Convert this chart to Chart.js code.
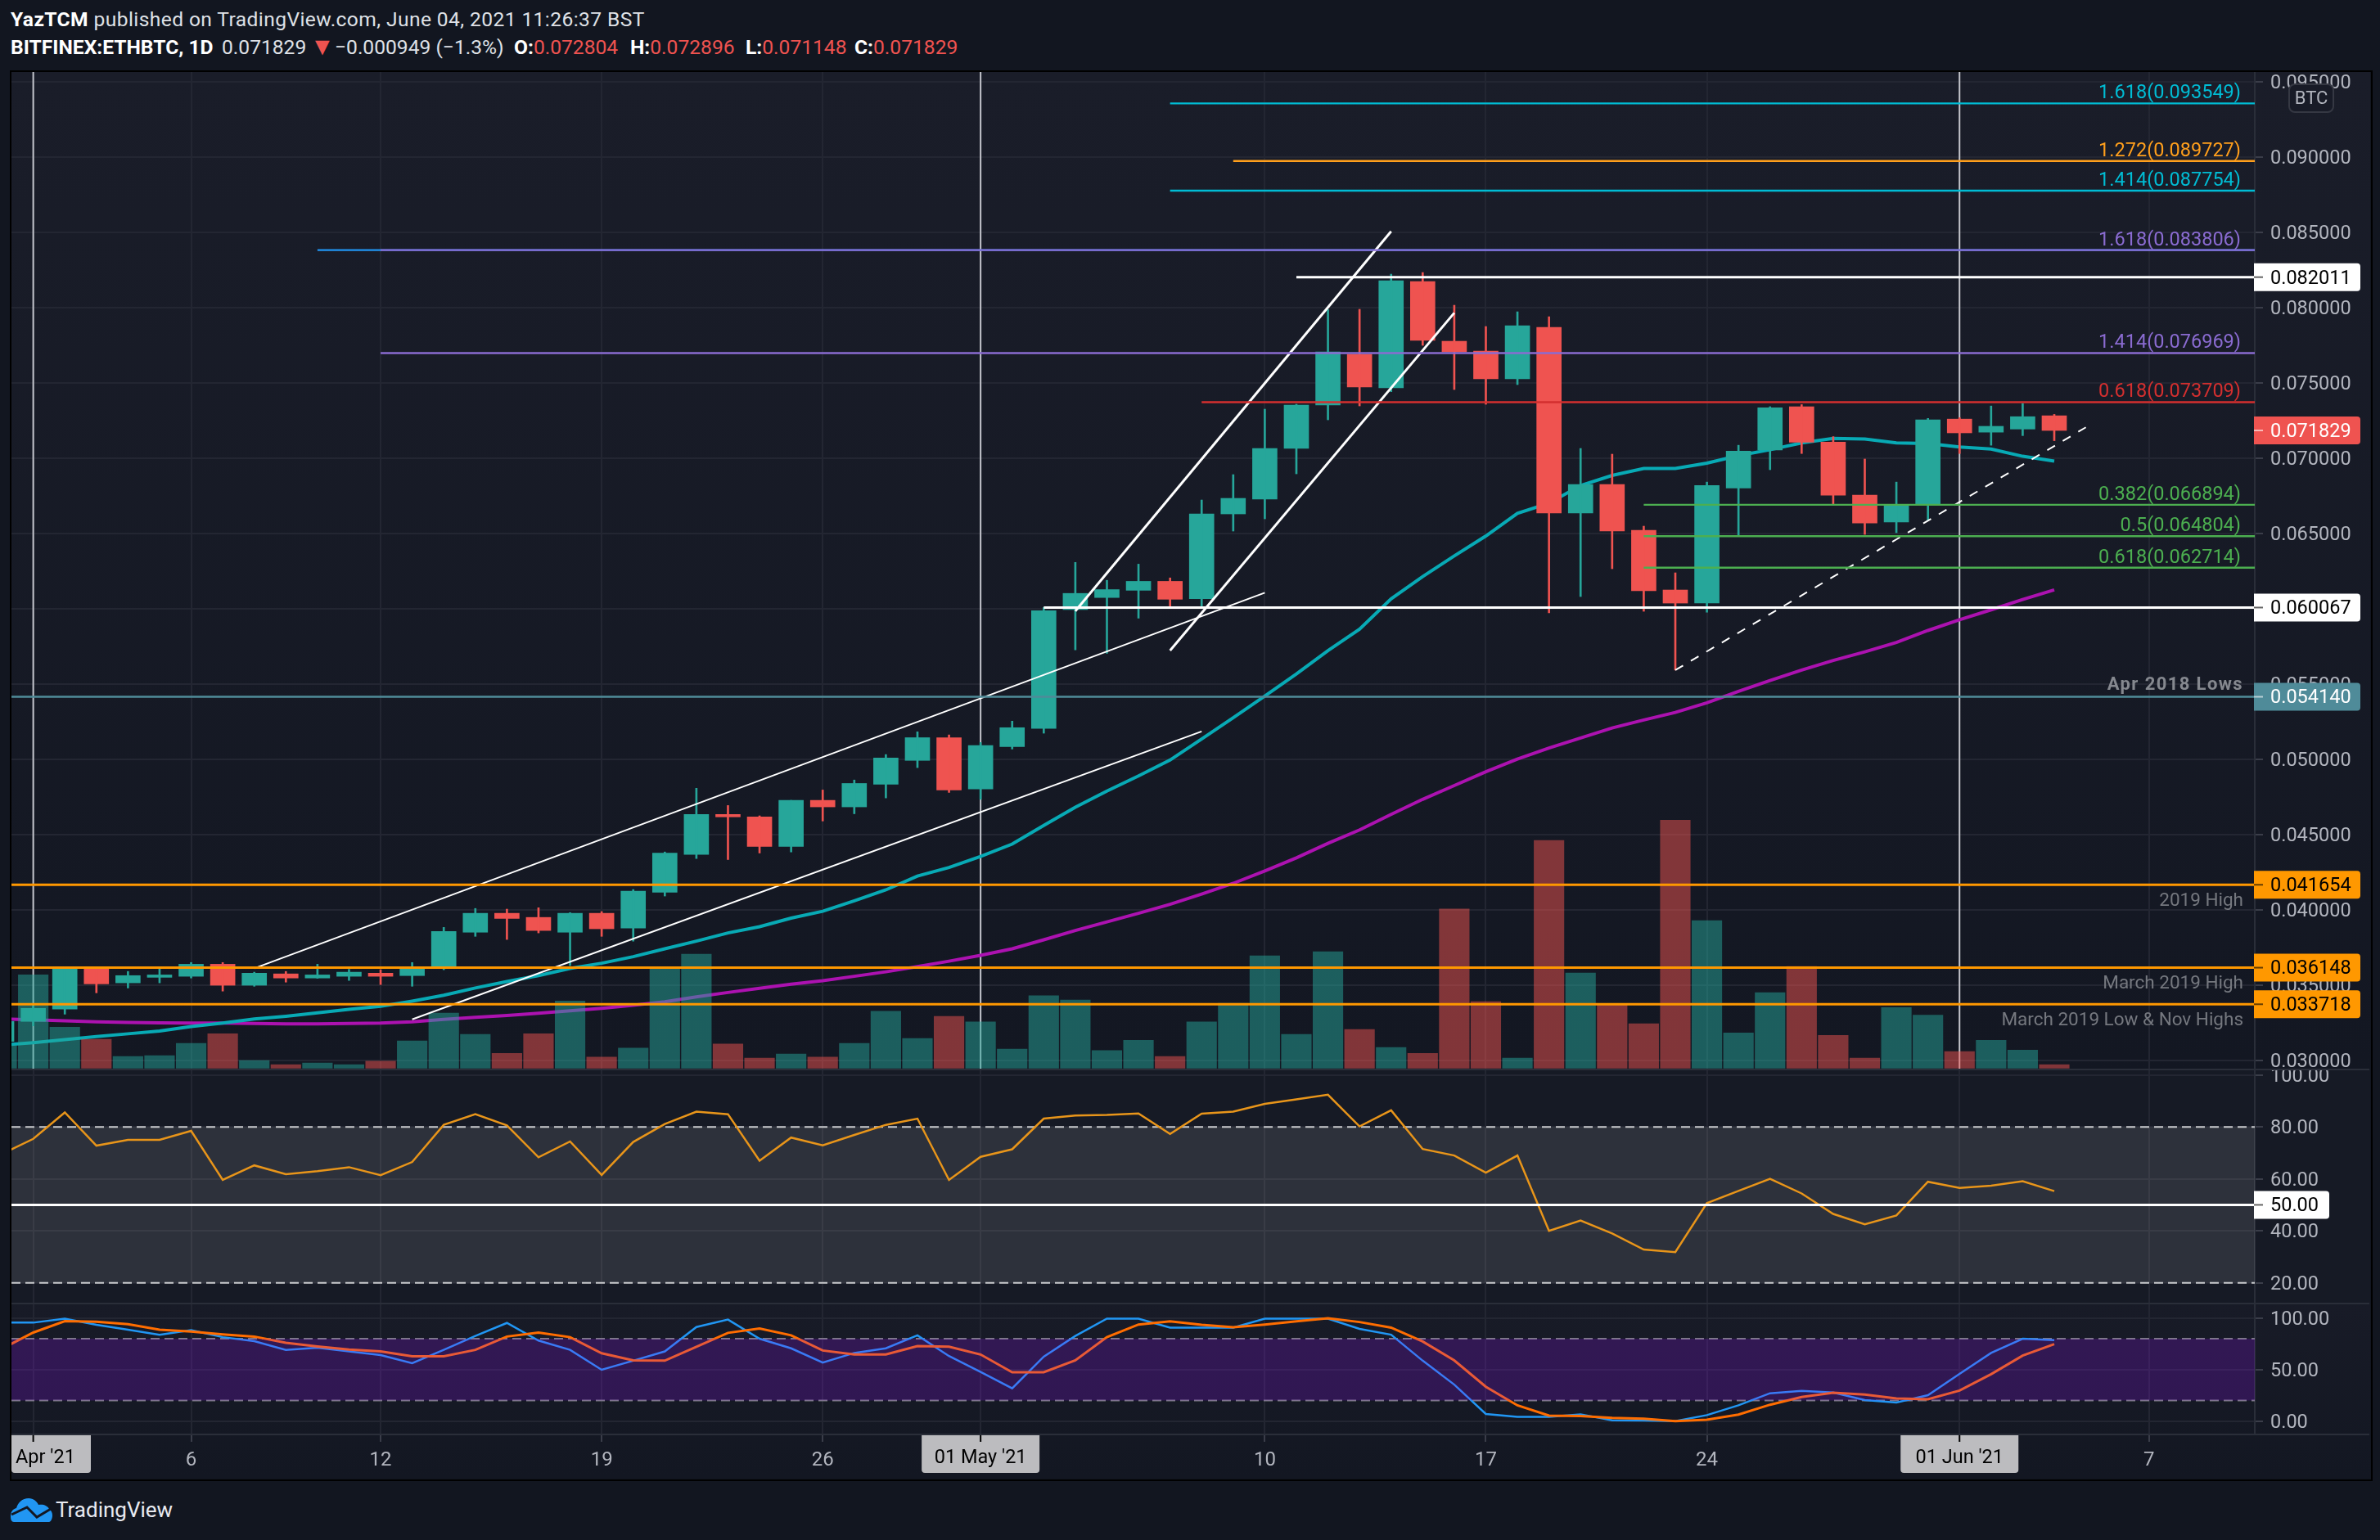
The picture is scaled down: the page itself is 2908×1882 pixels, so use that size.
<!DOCTYPE html>
<html>
<head>
<meta charset="utf-8">
<title>BITFINEX:ETHBTC, 1D</title>
<script src="https://cdn.jsdelivr.net/npm/chart.js@4/dist/chart.umd.js"></script>
<style>
  html, body { margin: 0; padding: 0; background: #121620; }
  body { position: relative; width: 2908px; height: 1882px; overflow: hidden; font-family: Roboto, sans-serif; }
  .hd { position: absolute; font-size: 24.6px; line-height: 30px; white-space: pre; color: #dfe1e6; }
  .hd b { color: #fff; font-weight: 700; }
  .red { color: #ef5350; }
  #frame { position: absolute; left: 12px; top: 86px; width: 2883px; height: 1720px; border: 2px solid #000; }
  .pane { position: absolute; left: 14px; width: 2882px; }
  .pane canvas { display: block; }
  #mainPane { top: 88px; height: 1219px; background: linear-gradient(#1a1d29, #131722); }
  #rsiPane { top: 1307px; height: 286px; background: linear-gradient(#161a25, #161a25); }
  #stochPane { top: 1593px; height: 213px; background: linear-gradient(#181b27, #131722); }
  .sep { position: absolute; left: 14px; width: 2881px; height: 2px; background: #2a2e39; }
  #logo { position: absolute; left: 13px; top: 1831px; }
  #logoText { position: absolute; left: 68px; top: 1830px; font-size: 26px; line-height: 30px; color: #e8eaf0; }
</style>
</head>
<body>
<div class="hd" style="left:13px;top:9px;letter-spacing:0.4px"><b>YazTCM</b> published on TradingView.com, June 04, 2021 11:26:37 BST</div>
<div class="hd" style="left:13px;top:43px"><b>BITFINEX:ETHBTC, 1D</b></div>
<div class="hd" style="left:271px;top:43px">0.071829</div>
<div class="hd red" style="left:379px;top:42px;font-size:30px">▼</div>
<div class="hd" style="left:409px;top:43px">−0.000949 (−1.3%)</div>
<div class="hd" style="left:628px;top:43px"><b>O:</b><span class="red">0.072804</span></div>
<div class="hd" style="left:770px;top:43px"><b>H:</b><span class="red">0.072896</span></div>
<div class="hd" style="left:911px;top:43px"><b>L:</b><span class="red">0.071148</span></div>
<div class="hd" style="left:1044px;top:43px"><b>C:</b><span class="red">0.071829</span></div>

<div id="frame"></div>
<div class="pane" id="mainPane"><canvas id="mainChart" width="2882" height="1219"></canvas></div>
<div class="pane" id="rsiPane"><canvas id="rsiChart" width="2882" height="286"></canvas></div>
<div class="pane" id="stochPane"><canvas id="stochChart" width="2882" height="213"></canvas></div>
<div class="sep" style="top:1306px"></div>
<div class="sep" style="top:1592px"></div>
<div class="sep" style="top:1752px"></div>

<svg id="logo" width="51" height="29" viewBox="0 0 51 29">
  <path d="M0 22C0 16 3 13 7 12C9 5 14 0 22 0C28 0 32 4 34 8C40 7 45 9 47 13C50 15 51 18 51 21C51 25 49 29 47 29L4 29C1 29 0 26 0 22Z" fill="#2196f3"/>
  <path d="M1 20L20 11L32 23L49 13" fill="none" stroke="#131722" stroke-width="3"/>
</svg>
<div id="logoText">TradingView</div>

<script>
'use strict';

// daily candles, first entry is 31 Mar '21
const opens = [0.031252,0.032579,0.033402,0.036101,0.03514,0.035506,0.035575,0.036375,0.03498,0.035735,0.03546,0.035575,0.035781,0.035621,0.036101,0.038502,0.03976,0.039486,0.038502,0.03976,0.038777,0.041155,0.043671,0.046324,0.046164,0.044197,0.047261,0.046827,0.048336,0.049914,0.051424,0.048016,0.050829,0.052041,0.059931,0.060732,0.061212,0.061807,0.060652,0.066286,0.067264,0.070634,0.073514,0.076884,0.074656,0.081721,0.077754,0.0771,0.075254,0.078678,0.06634,0.068243,0.065199,0.061232,0.060373,0.06801,0.070526,0.073407,0.071052,0.06753,0.065747,0.066913,0.072584,0.071715,0.071921,0.072804];
const highs = [0.03275,0.0336,0.036215,0.036101,0.035895,0.036055,0.03649,0.03649,0.035849,0.035895,0.036375,0.036032,0.03601,0.03649,0.038822,0.04008,0.040035,0.040126,0.039806,0.039874,0.041338,0.043831,0.048062,0.046918,0.046232,0.047261,0.047948,0.048611,0.050303,0.051813,0.051607,0.051104,0.052522,0.060069,0.063065,0.061875,0.06295,0.062035,0.06721,0.068895,0.073243,0.07357,0.079855,0.079875,0.08221,0.082319,0.080145,0.078732,0.07971,0.079384,0.070634,0.070254,0.065471,0.062373,0.0684,0.070846,0.073407,0.073545,0.071418,0.069931,0.0684,0.07263,0.072676,0.073453,0.073613,0.072896];
const lows = [0.0310,0.032282,0.033059,0.034477,0.034797,0.03514,0.03546,0.034591,0.034912,0.035186,0.03544,0.0353,0.035026,0.034912,0.03601,0.038228,0.038022,0.038456,0.036284,0.038228,0.037908,0.040904,0.043396,0.043328,0.043762,0.043831,0.045889,0.04637,0.047421,0.049434,0.047787,0.04733,0.050669,0.051721,0.057256,0.057027,0.05936,0.060069,0.06005,0.065145,0.06596,0.068949,0.072536,0.07346,0.074402,0.077482,0.074547,0.073569,0.074873,0.05971,0.060797,0.062645,0.059819,0.055913,0.059755,0.064878,0.069222,0.070297,0.066936,0.064923,0.065038,0.065861,0.070297,0.070846,0.071486,0.071148];
const closes = [0.032579,0.033448,0.036101,0.035072,0.035621,0.035666,0.036375,0.03498,0.035781,0.03546,0.035666,0.035849,0.035575,0.036055,0.038548,0.03976,0.039417,0.038617,0.03976,0.038731,0.041224,0.043762,0.046324,0.046164,0.044197,0.047261,0.046827,0.048382,0.050074,0.051424,0.047948,0.050898,0.052087,0.059863,0.061006,0.061258,0.061807,0.060617,0.066286,0.067319,0.070634,0.073514,0.077047,0.07471,0.081775,0.077808,0.077047,0.075254,0.078786,0.06634,0.068243,0.065145,0.061177,0.060362,0.06817,0.070457,0.073339,0.071052,0.06753,0.065678,0.066867,0.072538,0.071669,0.072104,0.072744,0.071829];
const volumes = [66,271,119,84,34,36,72,100,22,10,15,10,20,79,160,98,43,100,195,32,58,290,331,70,29,41,32,72,165,86,150,134,55,210,198,51,81,34,134,188,326,98,338,112,60,43,462,193,29,661,276,184,129,720,428,102,219,295,95,29,176,154,48,81,52,10];
const ema20 = [0.031001,0.031161,0.031367,0.031573,0.031756,0.031939,0.032236,0.032465,0.032739,0.032922,0.033151,0.033379,0.033585,0.033928,0.034317,0.034797,0.035232,0.035621,0.036101,0.036444,0.036878,0.037404,0.037908,0.038456,0.038868,0.03944,0.039897,0.040583,0.041315,0.04223,0.042802,0.043534,0.044357,0.045592,0.046804,0.047879,0.048885,0.049937,0.051332,0.05275,0.054191,0.055655,0.05721,0.058628,0.06064,0.062127,0.063499,0.064819,0.066322,0.066993,0.06817,0.06884,0.0693,0.0693,0.069656,0.07016,0.070549,0.071006,0.071303,0.071258,0.071006,0.07096,0.070732,0.070595,0.070114,0.069794];
const ema50 = [0.032739,0.032693,0.032625,0.032556,0.03251,0.032487,0.032464,0.032464,0.032441,0.032418,0.032418,0.032441,0.032464,0.032556,0.032716,0.032853,0.032967,0.033127,0.033287,0.033448,0.033654,0.033883,0.034203,0.0345,0.034775,0.035049,0.035277,0.035575,0.035872,0.036215,0.036581,0.03697,0.037404,0.038,0.038617,0.039189,0.03976,0.040355,0.041041,0.04175,0.042573,0.043442,0.044403,0.045295,0.046324,0.04733,0.048245,0.04916,0.050006,0.050738,0.051408,0.052071,0.052597,0.053101,0.053741,0.054495,0.055227,0.055913,0.056554,0.057125,0.057743,0.058543,0.059252,0.059915,0.060601,0.061242];
const rsi = [69.5,75.4,85.6,72.8,75.0,75.0,78.5,59.6,65.2,61.8,63.0,64.5,61.4,66.5,80.8,84.9,80.6,68.3,74.4,61.5,74.2,81.1,85.9,84.9,67.0,75.9,72.9,76.9,80.8,83.2,59.6,68.5,71.4,83.2,84.4,84.6,85.2,77.3,85.1,85.9,88.9,90.6,92.4,80.2,86.4,71.5,69.0,62.4,69.0,40.0,44.0,39.0,32.8,31.8,50.7,55.4,60.0,54.4,46.5,42.5,45.9,58.9,56.5,57.4,59.1,55.3];
const stochK = [95.5,95.5,99.4,93.4,88.6,83.8,88.3,81.4,77.5,69.1,71.2,67.6,64.0,56.2,69.1,82.6,95.2,78.1,69.1,49.8,58.6,67.6,91.3,98.5,79.9,70.6,56.8,66.1,70.6,83.2,63.1,47.7,31.8,62.5,82.6,99.4,99.4,90.7,90.7,90.7,99.4,99.4,99.4,89.5,83.8,58.6,35.4,6.9,4.2,4.2,6.6,0.8,0.5,0,5.8,15.3,27.0,29.4,27.8,20.4,18.0,25.1,45.8,66.1,79.9,78.6];
const stochD = [70.0,85.9,97.0,96.4,94.0,88.6,86.8,84.1,82.0,76.0,72.4,69.4,67.6,62.8,62.8,69.1,82.0,85.9,81.4,65.8,58.9,58.6,72.1,85.6,89.8,83.2,68.5,64.6,64.6,72.7,72.1,64.6,47.4,47.4,58.9,81.4,93.7,96.7,93.4,91.0,93.7,96.7,99.7,96.1,90.7,77.2,58.9,33.3,15.3,5.4,5.0,3.2,2.4,0,1.3,6.3,15.9,23.3,27.5,25.7,22.0,21.2,29.6,45.5,63.5,74.6];

// axis ticks, days counted from 1 Apr '21
const timeTicks = [0,5,11,18,25,30,39,46,53,61,67];
const timeLabels = ["Apr '21",'6','12','19','26',"01 May '21",'10','17','24',"01 Jun '21",'7'];
const monthTicks = [0,30,61];
const priceTicks = [0.03,0.035,0.04,0.045,0.05,0.055,0.06,0.065,0.07,0.075,0.08,0.085,0.09,0.095];
const rsiTicks = [20,40,60,80,100];
const stochTicks = [0,50,100];

// fib levels drawn on the price pane
const fibRatios = ['1.618','1.272','1.414','1.618','1.414','0.618','0.382','0.5','0.618'];
const fibValues = [0.093549,0.089727,0.087754,0.083806,0.076969,0.073709,0.066894,0.064804,0.062714];
const fibStarts = [36,38,36,11,11,37,51,51,51];

// support and resistance with a price tag on the axis
const tagValues = [0.082011,0.060067,0.054140,0.041654,0.036148,0.033718];
const tagStarts = [40,32,-1,-1,-1,-1];
const tagNotes = ['','','Apr 2018 Lows','2019 High','March 2019 High','March 2019 Low & Nov Highs'];

// trend lines as [day, price, day, price]
const channelLines = [
  [7,0.036101,39,0.061052],
  [12,0.032716,37,0.051835],
  [33,0.059837,43,0.085056],
  [36,0.05721,45,0.079638]
];
const dashedTrend = [52,0.055913,65,0.072035];
const lastClose = 0.071829;
const rsiMid = 50;

const fibColors = ['#00bcd4','#ff9f1c','#00bcd4','#8a6bd1','#8a6bd1','#d32f2f','#4caf50','#4caf50','#4caf50'];
const tagFills = ['#ffffff','#ffffff','#4f8b99','#ff9800','#ff9800','#ff9800'];
const tagInks = ['#000000','#000000','#ffffff','#000000','#000000','#000000'];
const tagWidths = [3,3,2.4,3,3,3];
const UP = '#26a69a', DOWN = '#ef5350';
const GRID = '#232632', AXIS_TEXT = '#b2b5be', FONT = 'Roboto, sans-serif';

const X_MIN = -0.69, X_MAX = 70.35;
const days = opens.map((_, i) => i - 1);
const pts = arr => arr.map((v, i) => ({ x: days[i], y: v }));

function segment(points, color, width, order, dash) {
  return { type: 'line', data: points, borderColor: color, borderWidth: width, pointRadius: 0,
           tension: 0, fill: false, order: order, borderDash: dash || [], borderCapStyle: 'butt' };
}
function level(start, value, color, width, order, dash) {
  return segment([{ x: start, y: value }, { x: X_MAX, y: value }], color, width, order, dash);
}
function vertical(day, lo, hi) {
  return segment([{ x: day, y: lo }, { x: day, y: hi }], 'rgba(225,226,232,0.85)', 2, 6);
}
// tick labels must not push the plot area in from the canvas edges
function noPadding(s) {
  s.paddingLeft = s.paddingRight = s.paddingTop = s.paddingBottom = 0;
}
function xAxis(showLabels) {
  return {
    type: 'linear', min: X_MIN, max: X_MAX, offset: false,
    afterBuildTicks: s => { s.ticks = timeTicks.map(v => ({ value: v })); },
    afterFit: s => { s.height = showLabels ? 54 : 0; noPadding(s); },
    grid: { color: GRID, lineWidth: 2, offset: false, drawTicks: showLabels, tickLength: 10, tickColor: '#3a3d49' },
    border: { display: false },
    ticks: {
      display: showLabels, autoSkip: false, maxRotation: 0, padding: 9, color: AXIS_TEXT,
      font: { family: FONT, size: 24 },
      callback: v => monthTicks.includes(v) ? '' : timeLabels[timeTicks.indexOf(v)]
    }
  };
}
function yAxis(min, max, ticks, digits) {
  return {
    type: 'linear', position: 'right', min: min, max: max,
    afterBuildTicks: s => { s.ticks = ticks.map(v => ({ value: v })); },
    afterFit: s => { s.width = 141; noPadding(s); },
    grid: { color: GRID, lineWidth: 2, tickLength: 10, tickColor: '#3a3d49' },
    border: { color: '#2a2e39', width: 2 },
    ticks: { autoSkip: false, padding: 9, labelOffset: 2, color: AXIS_TEXT, font: { family: FONT, size: 23.5 },
             callback: v => v.toFixed(digits) }
  };
}
function axisTag(ctx, area, y, text, fill, ink, width) {
  const x = area.right - 1;
  ctx.save();
  ctx.fillStyle = fill;
  ctx.beginPath();
  ctx.roundRect(x, y - 17, width, 34, [0, 4, 4, 0]);
  ctx.fill();
  ctx.globalAlpha = 0.6;
  ctx.fillStyle = ink;
  ctx.fillRect(x, y - 1, 11, 2);
  ctx.globalAlpha = 1;
  ctx.font = '23.5px ' + FONT;
  ctx.textAlign = 'left';
  ctx.textBaseline = 'middle';
  ctx.fillText(text, area.right + 19, y + 2);
  ctx.restore();
}
function noteText(ctx, text, x, y, color, font, spacing) {
  ctx.save();
  ctx.font = font;
  ctx.letterSpacing = spacing || '0px';
  ctx.fillStyle = color;
  ctx.textAlign = 'right';
  ctx.textBaseline = 'middle';
  ctx.fillText(text, x, y);
  ctx.restore();
}
function bandPlugin(lo, hi, color, hook) {
  return {
    id: 'band' + hook,
    [hook](chart) {
      const { ctx, chartArea: a, scales: { y } } = chart;
      const top = y.getPixelForValue(hi), bottom = y.getPixelForValue(lo);
      ctx.save();
      ctx.fillStyle = color;
      ctx.fillRect(a.left, top, a.width, bottom - top);
      ctx.restore();
    }
  };
}

const priceLabels = {
  id: 'priceLabels',
  afterDraw(chart) {
    const { ctx, chartArea: a, scales: { y } } = chart;
    fibValues.forEach((v, i) => {
      noteText(ctx, fibRatios[i] + '(' + v.toFixed(6) + ')', a.right - 17, y.getPixelForValue(v) - 12,
               fibColors[i], '23.5px ' + FONT);
    });
    tagValues.forEach((v, i) => {
      const py = y.getPixelForValue(v);
      axisTag(ctx, a, py, v.toFixed(6), tagFills[i], tagInks[i], 130);
      if (!tagNotes[i]) return;
      if (i === 2) noteText(ctx, tagNotes[i], a.right - 14, py - 14, '#85888f', 'bold 22px ' + FONT, '1.4px');
      else noteText(ctx, tagNotes[i], a.right - 14, py + 20, '#75787f', '22.5px ' + FONT);
    });
    axisTag(ctx, a, y.getPixelForValue(lastClose), lastClose.toFixed(6), DOWN, '#ffffff', 130);

    // currency button on the price axis
    ctx.save();
    ctx.fillStyle = '#181b27';
    ctx.strokeStyle = '#353843';
    ctx.lineWidth = 2;
    ctx.beginPath();
    ctx.roundRect(a.right + 42, 15, 54, 34, 7);
    ctx.fill();
    ctx.stroke();
    ctx.fillStyle = AXIS_TEXT;
    ctx.font = '22px ' + FONT;
    ctx.textAlign = 'center';
    ctx.textBaseline = 'middle';
    ctx.fillText('BTC', a.right + 69, 33);
    ctx.restore();
  }
};

const rsiTag = {
  id: 'rsiTag',
  afterDraw(chart) {
    const { ctx, chartArea: a, scales: { y } } = chart;
    axisTag(ctx, a, y.getPixelForValue(rsiMid), rsiMid.toFixed(2), '#ffffff', '#000000', 92);
  }
};

const monthBoxes = {
  id: 'monthBoxes',
  afterDraw(chart) {
    const { ctx, chartArea: a, scales: { x } } = chart;
    monthTicks.forEach(d => {
      const cx = x.getPixelForValue(d);
      const left = Math.max(0, cx - 72);
      const w = d === 0 ? 97 : 144;
      ctx.save();
      ctx.fillStyle = '#bcbcbf';
      ctx.beginPath();
      ctx.roundRect(left, a.bottom + 1, w, 47, [0, 0, 4, 4]);
      ctx.fill();
      ctx.fillStyle = '#000';
      ctx.fillRect(cx - 1, a.bottom + 1, 2, 9);
      ctx.font = '23.5px ' + FONT;
      ctx.textBaseline = 'middle';
      ctx.textAlign = d === 0 ? 'left' : 'center';
      ctx.fillText(timeLabels[timeTicks.indexOf(d)], d === 0 ? 5 : cx, a.bottom + 30);
      ctx.restore();
    });
  }
};

const common = {
  responsive: false, animation: false, devicePixelRatio: 1,
  layout: { padding: 0 },
  plugins: { legend: { display: false }, tooltip: { enabled: false } },
  events: []
};

// price pane: moving averages under the candles, volume over them, drawings on top
const PRICE_MIN = 0.029385, PRICE_MAX = 0.095636;
const candleColors = closes.map((c, i) => c >= opens[i] ? UP : DOWN);
const volumeColors = closes.map((c, i) => c >= opens[i] ? 'rgba(38,166,154,0.5)' : 'rgba(239,83,80,0.5)');

const priceDatasets = [
  vertical(0, PRICE_MIN, PRICE_MAX), vertical(30, PRICE_MIN, PRICE_MAX), vertical(61, PRICE_MIN, PRICE_MAX),
  segment(pts(ema20), '#08aab5', 4, 5),
  segment(pts(ema50), '#ac12b0', 4, 5),
  { type: 'bar', data: days.map((d, i) => ({ x: d, y: [lows[i], highs[i]] })), backgroundColor: candleColors,
    barThickness: 2, grouped: false, order: 4 },
  { type: 'bar', data: days.map((d, i) => ({ x: d, y: [opens[i], closes[i]] })), backgroundColor: candleColors,
    barThickness: 30, grouped: false, order: 4 },
  { type: 'bar', data: pts(volumes), yAxisID: 'vol', backgroundColor: volumeColors,
    barThickness: 36.5, grouped: false, order: 3 },
  level(9, fibValues[3], '#2196f3', 2.4, 2)
];
fibValues.forEach((v, i) => priceDatasets.push(level(fibStarts[i], v, fibColors[i], 2.4, 1)));
tagValues.forEach((v, i) => priceDatasets.push(level(Math.max(tagStarts[i], X_MIN), v, tagFills[i], tagWidths[i], 1)));
channelLines.forEach((l, i) => priceDatasets.push(segment([{ x: l[0], y: l[1] }, { x: l[2], y: l[3] }], '#ffffff', i < 2 ? 2 : 3, 1)));
priceDatasets.push(segment([{ x: dashedTrend[0], y: dashedTrend[1] }, { x: dashedTrend[2], y: dashedTrend[3] }], '#ffffff', 2, 1, [11, 11]));

new Chart(document.getElementById('mainChart'), {
  data: { datasets: priceDatasets },
  options: Object.assign({}, common, {
    scales: {
      x: xAxis(false),
      y: yAxis(PRICE_MIN, PRICE_MAX, priceTicks, 6),
      vol: { type: 'linear', display: false, min: -4, max: 2892 }
    }
  }),
  plugins: [priceLabels]
});

// RSI pane
new Chart(document.getElementById('rsiChart'), {
  data: { datasets: [
    segment(pts(rsi), '#e8951a', 2.5, 2),
    level(X_MIN, 80, '#c9cacd', 2, 3, [11, 6]),
    level(X_MIN, 20, '#c9cacd', 2, 3, [11, 6]),
    level(X_MIN, rsiMid, '#ffffff', 3, 1)
  ] },
  options: Object.assign({}, common, {
    scales: { x: xAxis(false), y: yAxis(12.03, 102.11, rsiTicks, 2) }
  }),
  plugins: [bandPlugin(20, 80, 'rgba(255,255,255,0.1)', 'beforeDatasetsDraw'), rsiTag]
});

// stochastic RSI pane, carries the time axis
new Chart(document.getElementById('stochChart'), {
  data: { datasets: [
    segment(pts(stochK), '#2196f3', 2.5, 2),
    segment(pts(stochD), '#ff6d00', 3, 1),
    level(X_MIN, 80, '#7d7e83', 2, 3, [11, 6]),
    level(X_MIN, 20, '#7d7e83', 2, 3, [11, 6])
  ] },
  options: Object.assign({}, common, {
    scales: { x: xAxis(true), y: yAxis(-12.14, 114.05, stochTicks, 2) }
  }),
  plugins: [bandPlugin(20, 80, 'rgba(153,21,255,0.21)', 'afterDatasetsDraw'), monthBoxes]
});
</script>
</body>
</html>
